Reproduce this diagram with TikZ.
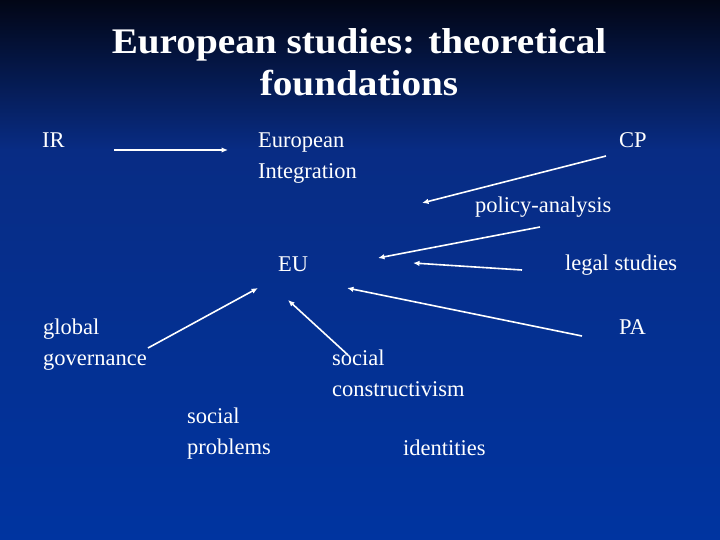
\documentclass[tikz,border=0pt]{standalone}
\usepackage{fontspec}
\setmainfont{Liberation Serif}
\newfontfamily\headfont[FakeStretch=1.09]{Liberation Serif}
\usetikzlibrary{calc}
\usetikzlibrary{arrows, backgrounds}
\usetikzlibrary{arrows.meta}

\definecolor{bgtop}{RGB}{2,6,22}
\definecolor{bgmid}{RGB}{8,44,132}
\definecolor{bgbot}{RGB}{0,52,160}

\begin{document}
\begin{tikzpicture}[
		x=1pt, y=-1pt,
		>={Latex[length=6.5pt,width=5.5pt]},
		heading/.style={text=white, inner sep=0pt, align=center, font=\headfont\bfseries\fontsize{36}{42}\selectfont},
		term/.style={text=white, inner sep=0pt, anchor=base west, align=left, font=\fontsize{22.5}{31}\selectfont},
		link/.style={->, white, line width=1.6pt},
	]
	\useasboundingbox (0,0) rectangle (720,540);
	% background
	\shade[top color=bgtop, bottom color=bgmid] (0,0) rectangle (720,150);
	\shade[top color=bgmid, bottom color=bgbot] (0,150) rectangle (720,540);

	% multi-line nodes sit on the baseline of their last line
	\node[heading, anchor=base] (title) at (359,96) {European studies: theoretical\\foundations};

	\node[term] (IR) at (42,148) {IR};
	\node[term] (EI) at (258,179) {European\\Integration};
	\node[term] (CP) at (619,148) {CP};
	\node[term] (policy) at (475,212) {policy-analysis};
	\node[term] (EU) at (278,271) {EU};
	\node[term] (legal) at (565,270) {legal studies};
	\node[term] (global) at (43,365) {global\\governance};
	\node[term] (PA) at (619,334) {PA};
	\node[term] (constr) at (332,396) {social\\constructivism};
	\node[term] (problems) at (187,454) {social\\problems};
	\node[term] (identities) at (403,455) {identities};

	% arrow ends
	\coordinate (ir-a) at (114,150);
	\coordinate (ir-b) at (228,150);
	\coordinate (cp-a) at (606,156);
	\coordinate (cp-b) at (422,203);
	\coordinate (pol-a) at (540,227);
	\coordinate (pol-b) at (378,258);
	\coordinate (leg-a) at (522,270);
	\coordinate (leg-b) at (413,263);
	\coordinate (pa-a) at (582,336);
	\coordinate (pa-b) at (347,288);
	\coordinate (gov-a) at (148,348);
	\coordinate (gov-b) at (258,288);
	\coordinate (con-a) at (348,355);
	\coordinate (con-b) at (288,300);

	\draw[link] (ir-a) -- (ir-b);
	\draw[link] (cp-a) -- (cp-b);
	\draw[link] (pol-a) -- (pol-b);
	\draw[link] (leg-a) -- (leg-b);
	\draw[link] (pa-a) -- (pa-b);
	\draw[link] (gov-a) -- (gov-b);
	\draw[link] (con-a) -- (con-b);
\end{tikzpicture}
\end{document}
